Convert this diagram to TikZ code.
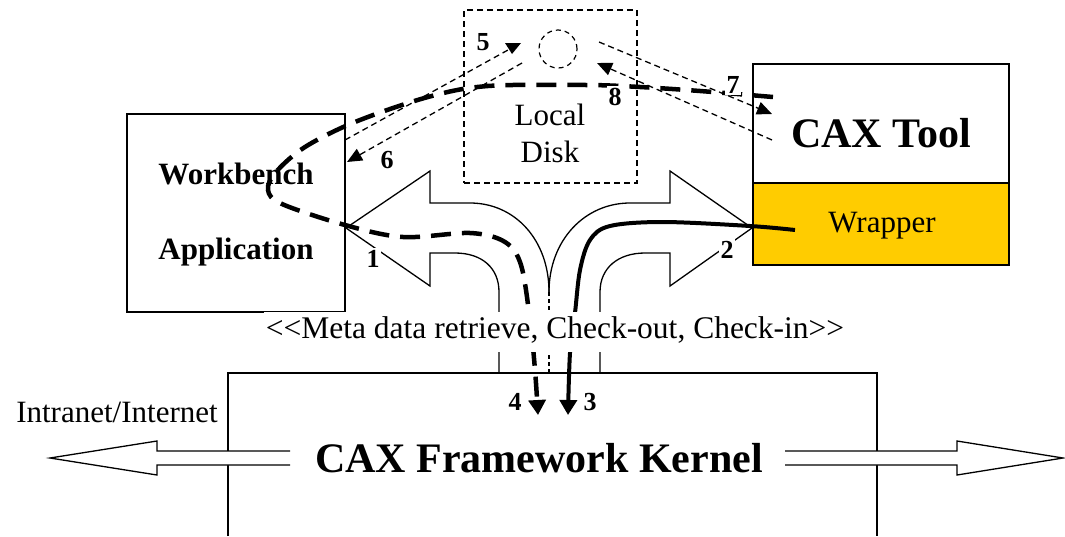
\documentclass[tikz,border=0pt]{standalone}
\usepackage{fontspec}
\setmainfont{Liberation Serif}
\usetikzlibrary{arrows.meta}
\definecolor{wrapyellow}{RGB}{255,204,0}
\begin{document}
\begin{tikzpicture}[x=1pt,y=-1pt,
  frame/.style={draw, line width=1.6pt, inner sep=0pt},
  outline/.style={draw, line width=1.3pt, line join=miter},
  thinflow/.style={line width=1.3pt, dash pattern=on 6pt off 4pt},
  boldflow/.style={line width=4.5pt, dash pattern=on 20pt off 11pt},
  solidflow/.style={line width=4pt},
  thintip/.style={-{Triangle[length=15pt,width=13pt]}},
  boldtip/.style={-{Triangle[length=15pt,width=17pt]}},
  rm/.style={font=\fontsize{31}{36}\selectfont, anchor=base, inner sep=0pt},
  bf/.style={font=\fontsize{31}{36}\selectfont\bfseries, anchor=base, inner sep=0pt},
  huge/.style={font=\fontsize{42}{48}\selectfont\bfseries, anchor=base, inner sep=0pt},
  num/.style={font=\fontsize{26}{30}\selectfont\bfseries, anchor=base, fill=white, inner sep=1.5pt},
]
\useasboundingbox (0,0) rectangle (1065,536);

% ---- framework kernel (open at the bottom) ----
\coordinate (kbl) at (228,536);
\coordinate (ktl) at (228,373);
\coordinate (ktr) at (877,373);
\coordinate (kbr) at (877,536);
\draw[line width=1.5pt] (kbl) -- (ktl) -- (ktr) -- (kbr);

% network arrows leaving the kernel
\fill[white] (290,451) -- (157,451) -- (157,441) -- (50,458) -- (157,475) -- (157,465) -- (290,465) -- cycle;
\draw[outline] (290,451) -- (157,451) -- (157,441) -- (50,458) -- (157,475) -- (157,465) -- (290,465);
\fill[white] (785,451) -- (957,451) -- (957,441) -- (1063,458) -- (957,475) -- (957,465) -- (785,465) -- cycle;
\draw[outline] (785,451) -- (957,451) -- (957,441) -- (1063,458) -- (957,475) -- (957,465) -- (785,465);

\node[huge] (kernel) at (539,472) {CAX Framework Kernel};
\node[rm] (net) at (117,422) {Intranet/Internet};

% ---- workbench ----
\node[frame, minimum width=218pt, minimum height=198pt] (wb) at (236,213) {};
\node[bf] (wbA) at (236,184) {Workbench};
\node[bf] (wbB) at (236,259) {Application};

% ---- local disk ----
\node[draw, line width=1.3pt, dash pattern=on 6pt off 4pt, minimum width=173pt, minimum height=173pt] (disk) at (550.5,96.5) {};
\node[draw, circle, line width=1.2pt, dash pattern=on 5pt off 4pt, minimum size=38pt, inner sep=0pt] (cache) at (558,49) {};
\node[rm] (diskA) at (550,125) {Local};
\node[rm] (diskB) at (550,162) {Disk};

% ---- CAX tool with its wrapper ----
\node[frame, minimum width=256pt, minimum height=119pt] (tool) at (881,123.5) {};
\node[frame, fill=wrapyellow, minimum width=256pt, minimum height=82pt] (wrap) at (881,224) {};
\node[huge] (toolT) at (881,147) {CAX Tool};
\node[rm] (wrapT) at (882,232) {Wrapper};

% ---- split block arrow from the kernel to both clients ----
\draw[outline] (499,373) -- (499,292) .. controls (499,268) and (482,253) .. (455,253) -- (430,253)
  -- (430,286) -- (346,228) -- (430,171) -- (430,203) -- (470,203)
  .. controls (515,203) and (549,240) .. (549,292);
\draw[outline] (600,373) -- (600,292) .. controls (600,268) and (618,253) .. (645,253) -- (670,253)
  -- (670,286) -- (752,228) -- (670,171) -- (670,203) -- (630,203)
  .. controls (585,203) and (549,240) .. (549,292);
\draw[line width=1.3pt, dash pattern=on 4pt off 3pt] (549,292) -- (549,373);

% ---- local file exchange ----
\coordinate (f5s) at (345,140);
\coordinate (f5e) at (508,50);
\coordinate (f6s) at (522,63);
\coordinate (f6e) at (347,162);
\coordinate (f7s) at (599,42);
\coordinate (f7e) at (772,114);
\coordinate (f8s) at (772,140);
\coordinate (f8e) at (597,63);
\draw[thinflow] (f5s) -- (f5e);
\fill (505,43) -- (521,43) -- (512,54) -- cycle;
\draw[thinflow, thintip] (f6s) -- (f6e);
\draw[thinflow, thintip] (f7s) -- (f7e);
\draw[thinflow, thintip] (f8s) -- (f8e);

% ---- data flows through the kernel ----
\draw[boldflow, boldtip] plot[smooth, tension=0.55] coordinates {(773,97) (700,91) (640,87) (586,85) (488,86) (428,97) (355,122) (305,147) (276,172) (268,190) (282,204) (345,225) (403,237) (470,233) (505,242) (521,265) (530,320) (535,370) (538,415)};
\draw[solidflow, boldtip] plot[smooth, tension=0.55] coordinates {(795,230) (750,226) (663,222) (610,226) (590,240) (580,270) (575,313) (570,353) (568,415)};

% ---- step numbers ----
\node[num] (n1) at (373,267) {1};
\node[num] (n2) at (727,258) {2};
\node[num] (n3) at (590,410) {3};
\node[num] (n4) at (515,410) {4};
\node[num] (n5) at (483,50) {5};
\node[num] (n6) at (387,168) {6};
\node[num] (n7) at (733,93) {7};
\node[num] (n8) at (615,105) {8};

% ---- service label ----
\node[font=\fontsize{31.5}{36}\selectfont, fill=white, anchor=base, inner xsep=2pt, inner ysep=2pt, text height=24pt, text depth=12pt] (meta) at (555,338) {<{}<Meta data retrieve, Check-out, Check-in>{}>};
\end{tikzpicture}
\end{document}
